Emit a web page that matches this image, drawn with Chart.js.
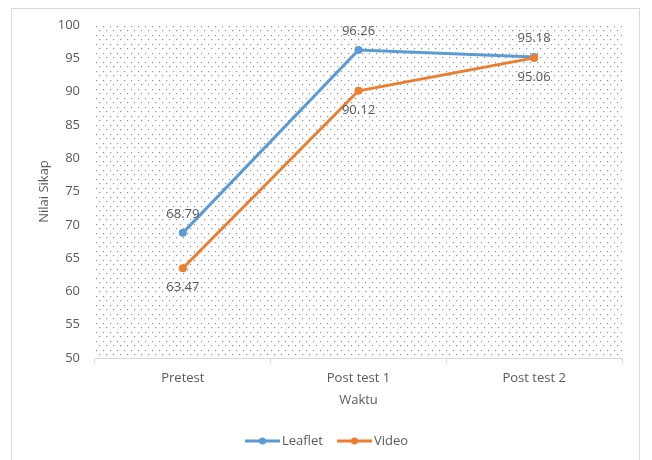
<!DOCTYPE html>
<html>
<head>
<meta charset="utf-8">
<script src="https://cdn.jsdelivr.net/npm/chart.js@4/dist/chart.umd.min.js"></script>
<style>
  html, body { margin: 0; padding: 0; background: #ffffff; }
  #wrap { width: 652px; height: 460px; }
</style>
</head>
<body>
<div id="wrap"><canvas id="c" width="652" height="460"></canvas></div>
<script>
// Attitude scores per measurement time
const categories = ['Pretest', 'Post test 1', 'Post test 2'];
const leafletValues = [68.79, 96.26, 95.18];
const videoValues = [63.47, 90.12, 95.06];
const seriesNames = ['Leaflet', 'Video'];
const yTitle = 'Nilai Sikap';
const xTitle = 'Waktu';

const BLUE = '#5B9BD5';
const ORANGE = '#ED7D31';
const TEXT = '#595959';
const FONT = "'Open Sans', 'DejaVu Sans', sans-serif";
const SIZE = 13;

// Dotted fill for the plot area
function makeDotPattern(ctx) {
  const tile = document.createElement('canvas');
  tile.width = 14; tile.height = 9;
  const t = tile.getContext('2d');
  const dots = [[1, 1], [8, 1], [4, 5], [11, 5]];
  t.fillStyle = '#909090';
  dots.forEach(([x, y]) => t.fillRect(x, y, 1, 1));
  t.fillStyle = 'rgba(144,144,144,0.2)';
  dots.forEach(([x, y]) => { t.fillRect(x + 1, y, 1, 1); t.fillRect(x, y + 1, 1, 1); });
  return ctx.createPattern(tile, 'repeat');
}

const framePlugin = {
  id: 'frame',
  beforeDraw(chart) {
    const { ctx, chartArea: a } = chart;
    ctx.save();
    ctx.fillStyle = '#ffffff';
    ctx.fillRect(0, 0, chart.width, chart.height);
    ctx.strokeStyle = '#d9d9d9';
    ctx.lineWidth = 1;
    ctx.strokeRect(11.5, 8.5, 628, 470);
    ctx.translate(a.left, a.top);
    ctx.fillStyle = makeDotPattern(ctx);
    ctx.fillRect(0, 0, a.right - a.left, a.bottom - a.top);
    ctx.restore();
  }
};

// Value labels: Leaflet above its points, Video below
const valueLabels = {
  id: 'valueLabels',
  afterDatasetsDraw(chart) {
    const { ctx } = chart;
    ctx.save();
    ctx.font = SIZE + 'px ' + FONT;
    ctx.fillStyle = TEXT;
    ctx.textAlign = 'center';
    ctx.textBaseline = 'middle';
    chart.data.datasets.forEach((ds, di) => {
      const meta = chart.getDatasetMeta(di);
      meta.data.forEach((pt, i) => {
        const dy = di === 0 ? -19 : 19;
        ctx.fillText(ds.data[i].toFixed(2), pt.x, pt.y + dy);
      });
    });
    ctx.restore();
  }
};

// Bottom legend with line-and-marker keys
const lineLegend = {
  id: 'lineLegend',
  afterDraw(chart) {
    const { ctx } = chart;
    const y = 441;
    const items = [
      { name: seriesNames[0], color: BLUE, x0: 245 },
      { name: seriesNames[1], color: ORANGE, x0: 337 }
    ];
    ctx.save();
    ctx.font = SIZE + 'px ' + FONT;
    ctx.textBaseline = 'middle';
    ctx.textAlign = 'left';
    items.forEach(it => {
      ctx.strokeStyle = it.color;
      ctx.lineWidth = 3;
      ctx.beginPath();
      ctx.moveTo(it.x0, y);
      ctx.lineTo(it.x0 + 35, y);
      ctx.stroke();
      ctx.fillStyle = it.color;
      ctx.beginPath();
      ctx.arc(it.x0 + 17.5, y, 3.5, 0, Math.PI * 2);
      ctx.fill();
      ctx.fillStyle = TEXT;
      ctx.fillText(it.name, it.x0 + 37, y);
    });
    ctx.restore();
  }
};

new Chart(document.getElementById('c'), {
  type: 'line',
  data: {
    labels: categories,
    datasets: [
      {
        label: seriesNames[0], data: leafletValues, order: 1,
        borderColor: BLUE, backgroundColor: BLUE, borderWidth: 3,
        pointRadius: 4, pointBackgroundColor: BLUE, pointBorderWidth: 0,
        tension: 0
      },
      {
        label: seriesNames[1], data: videoValues, order: 0,
        borderColor: ORANGE, backgroundColor: ORANGE, borderWidth: 3,
        pointRadius: 4, pointBackgroundColor: ORANGE, pointBorderWidth: 0,
        tension: 0
      }
    ]
  },
  options: {
    responsive: false,
    animation: false,
    events: [],
    layout: { padding: { left: 11, right: 30, top: 25, bottom: 32 } },
    plugins: { legend: { display: false }, tooltip: { enabled: false } },
    scales: {
      x: {
        offset: true,
        grid: { offset: true, drawOnChartArea: false, drawTicks: true, tickLength: 5, color: '#d9d9d9' },
        border: { display: true, color: '#d9d9d9' },
        ticks: { color: TEXT, font: { family: FONT, size: SIZE }, padding: 7, maxRotation: 0 },
        title: { display: true, text: xTitle, color: TEXT, font: { family: FONT, size: SIZE }, padding: { top: 0, bottom: 20 } },
        afterFit(s) { s.height = 70; }
      },
      y: {
        min: 50, max: 100,
        ticks: { stepSize: 5, color: TEXT, font: { family: FONT, size: SIZE }, padding: 15 },
        grid: { display: false, drawTicks: false },
        border: { display: false },
        title: { display: true, text: yTitle, color: TEXT, font: { family: FONT, size: SIZE }, padding: { top: 25, bottom: 0 } },
        afterFit(s) { s.width = 84; }
      }
    }
  },
  plugins: [framePlugin, valueLabels, lineLegend]
});
</script>
</body>
</html>
